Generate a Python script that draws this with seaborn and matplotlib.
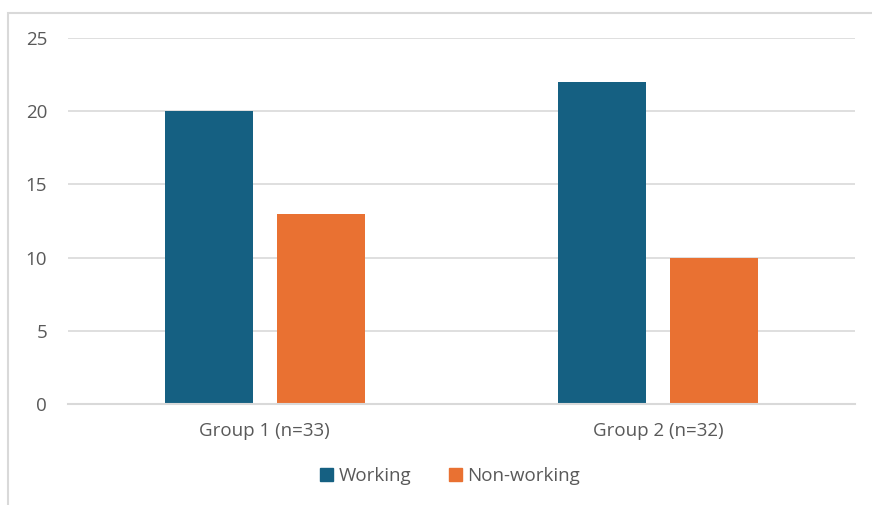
import matplotlib
matplotlib.use("Agg")
import matplotlib.pyplot as plt
import pandas as pd
import seaborn as sns
from matplotlib.patches import Rectangle

# data
groups = ["Group 1 (n=33)", "Group 2 (n=32)"]
status = ["Working", "Non-working"]
working = [20, 22]
non_working = [13, 10]
yticks = [0, 5, 10, 15, 20, 25]

colors = ["#156082", "#E97132"]
grid_c = "#d9d9d9"
text_c = "#595959"

df = pd.DataFrame({
    "group": groups * 2,
    "status": [status[0]] * len(groups) + [status[1]] * len(groups),
    "count": working + non_working,
})

sns.set_style("white")
plt.rcParams["font.family"] = ["Open Sans", "DejaVu Sans"]

fig = plt.figure(figsize=(8.72, 5.05), dpi=100)
ax = fig.add_axes([68 / 872, 1 - 404 / 505, (855 - 68) / 872, (404 - 38) / 505])

sns.barplot(data=df, x="group", y="count", hue="status", order=groups,
            hue_order=status, palette=colors, width=0.569, gap=0.214,
            saturation=1, linewidth=0, ax=ax, legend=False)

ax.set_ylim(0, 25)
ax.set_xlim(-0.5, 1.5)
ax.set_yticks(yticks)
ax.yaxis.grid(True, color=grid_c, linewidth=1.2)
ax.set_axisbelow(True)
for s in ["top", "right", "left"]:
    ax.spines[s].set_visible(False)
ax.spines["bottom"].set_color(grid_c)
ax.spines["bottom"].set_linewidth(1.5)
ax.tick_params(axis="both", length=0, colors=text_c, labelsize=13.5)
ax.tick_params(axis="y", pad=15)
ax.tick_params(axis="x", pad=13)
ax.set_xlabel("")
ax.set_ylabel("")

# legend
handles = [Rectangle((0, 0), 1, 1, color=c) for c in colors]
fig.legend(handles, status, loc="center", bbox_to_anchor=(450 / 872, 1 - 476 / 505),
           ncol=2, frameon=False, fontsize=13.5, labelcolor=text_c,
           handlelength=0.7, handleheight=0.7, handletextpad=0.3, columnspacing=2.0)

# outer chart frame
fig.patches.append(Rectangle((8 / 872, -0.1), 1.2, 1.1 - 13 / 505,
                             transform=fig.transFigure, fill=False,
                             edgecolor=grid_c, linewidth=1.5))

fig.savefig("out.png", dpi=100)
